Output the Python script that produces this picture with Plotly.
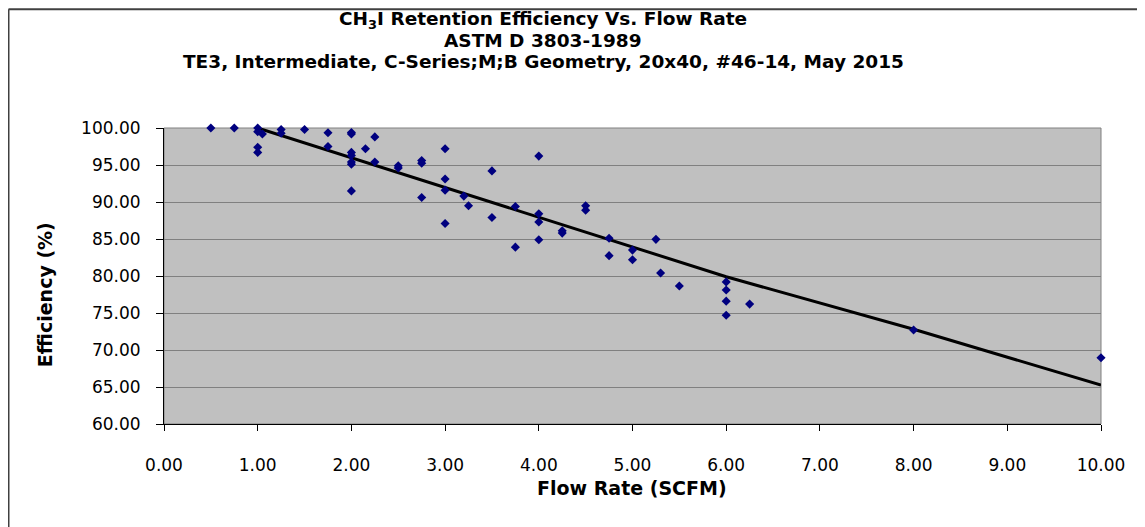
import plotly.graph_objects as go

# Measured data (Flow rate SCFM, Efficiency %)
flow_rate = [0.5, 0.75, 1.0, 1.0, 1.05, 1.0, 1.0,
             1.25, 1.25, 1.5, 1.75, 1.75,
             2.0, 2.0, 2.0, 2.0, 2.0, 2.0, 2.0,
             2.15, 2.25, 2.25, 2.5, 2.5,
             2.75, 2.75, 2.75, 3.0, 3.0, 3.0, 3.0,
             3.2, 3.25, 3.5, 3.5, 3.75, 3.75,
             4.0, 4.0, 4.0, 4.0, 4.25, 4.25, 4.5, 4.5,
             4.75, 4.75, 5.0, 5.0, 5.25, 5.3, 5.5,
             6.0, 6.0, 6.0, 6.0, 6.25, 8.0, 10.0]
efficiency = [100.0, 100.0, 100.0, 99.5, 99.2, 97.4, 96.7,
              99.8, 99.3, 99.8, 99.35, 97.5,
              99.4, 99.2, 96.7, 96.3, 95.4, 95.1, 91.5,
              97.2, 98.8, 95.4, 94.9, 94.6,
              95.6, 95.25, 90.6, 97.2, 93.1, 91.6, 87.1,
              90.8, 89.5, 94.2, 87.9, 89.4, 83.9,
              96.2, 88.4, 87.3, 84.9, 86.1, 85.8, 89.5, 88.9,
              85.1, 82.75, 83.5, 82.2, 84.95, 80.4, 78.65,
              79.2, 78.1, 76.6, 74.7, 76.2, 72.7, 68.95]

# Trendline
trend_x = [1.0, 3.0, 6.0, 8.0, 10.0]
trend_y = [100.0, 92.0, 79.9, 72.8, 65.25]

x_ticks = [0, 1, 2, 3, 4, 5, 6, 7, 8, 9, 10]
y_ticks = [60, 65, 70, 75, 80, 85, 90, 95, 100]

title_lines = ["CH<sub>3</sub>I Retention Efficiency Vs. Flow Rate",
               "ASTM D 3803-1989",
               "TE3, Intermediate, C-Series;M;B Geometry, 20x40, #46-14, May 2015"]
x_title = "Flow Rate (SCFM)"
y_title = "Efficiency (%)"

FONT = "DejaVu Sans, Verdana, sans-serif"

# figure is placed at (8, 8) in the page (default body margin)
W, H = 1137, 519
L, R, T, B = 156, 44, 119.5, 103
pw, ph = W - L - R, H - T - B

def fx(x):
    return (x - L) / pw

def fy(y):
    return (H - B - y) / ph

fig = go.Figure()
fig.add_trace(go.Scatter(
    x=trend_x, y=trend_y, mode="lines",
    line=dict(color="black", width=3), hoverinfo="skip", showlegend=False))
fig.add_trace(go.Scatter(
    x=flow_rate, y=efficiency, mode="markers",
    marker=dict(symbol="diamond", size=7, color="#00007F"),
    cliponaxis=False, showlegend=False))

annotations = []
for line_text, yc in zip(title_lines, [11, 31.5, 53]):
    annotations.append(dict(
        text="<b>" + line_text + "</b>", xref="paper", yref="paper",
        x=fx(535), y=fy(yc), xanchor="center", yanchor="middle",
        showarrow=False, font=dict(family=FONT, size=18.5, color="black")))
annotations.append(dict(
    text="<b>" + x_title + "</b>", xref="paper", yref="paper",
    x=fx(624), y=fy(480), xanchor="center", yanchor="middle",
    showarrow=False, font=dict(family=FONT, size=19, color="black")))
annotations.append(dict(
    text="<b>" + y_title + "</b>", xref="paper", yref="paper",
    x=fx(37), y=fy(286), xanchor="center", yanchor="middle", textangle=-90,
    showarrow=False, font=dict(family=FONT, size=19, color="black")))

fig.update_layout(
    width=W, height=H,
    margin=dict(l=L, r=R, t=T, b=B, autoexpand=False),
    paper_bgcolor="white", plot_bgcolor="#C0C0C0",
    font=dict(family=FONT, color="black"),
    xaxis=dict(
        range=[0, 10], tickvals=x_ticks, tickformat=".2f",
        showgrid=False, zeroline=False,
        showline=True, linecolor="black", linewidth=1,
        ticks="outside", ticklen=6, tickcolor="black",
        ticklabelstandoff=20,
        tickfont=dict(size=17, family=FONT)),
    yaxis=dict(
        range=[60, 100], tickvals=y_ticks, tickformat=".2f",
        showgrid=True, gridcolor="#808080", gridwidth=1, zeroline=False,
        showline=True, linecolor="black", linewidth=1,
        ticks="outside", ticklen=7, tickcolor="black",
        ticklabelstandoff=12,
        tickfont=dict(size=17, family=FONT)),
    annotations=annotations,
    shapes=[
        dict(type="rect", xref="paper", yref="paper", x0=0, x1=1, y0=0, y1=1,
             line=dict(color="#808080", width=1), layer="below"),
        dict(type="line", xref="paper", yref="paper",
             x0=fx(0.5), x1=fx(W + 10), y0=fy(0.5), y1=fy(0.5),
             line=dict(color="#404040", width=2)),
        dict(type="line", xref="paper", yref="paper",
             x0=fx(0.5), x1=fx(0.5), y0=fy(0.5), y1=fy(H + 10),
             line=dict(color="#404040", width=2)),
    ],
)

fig.write_html("out.html")
